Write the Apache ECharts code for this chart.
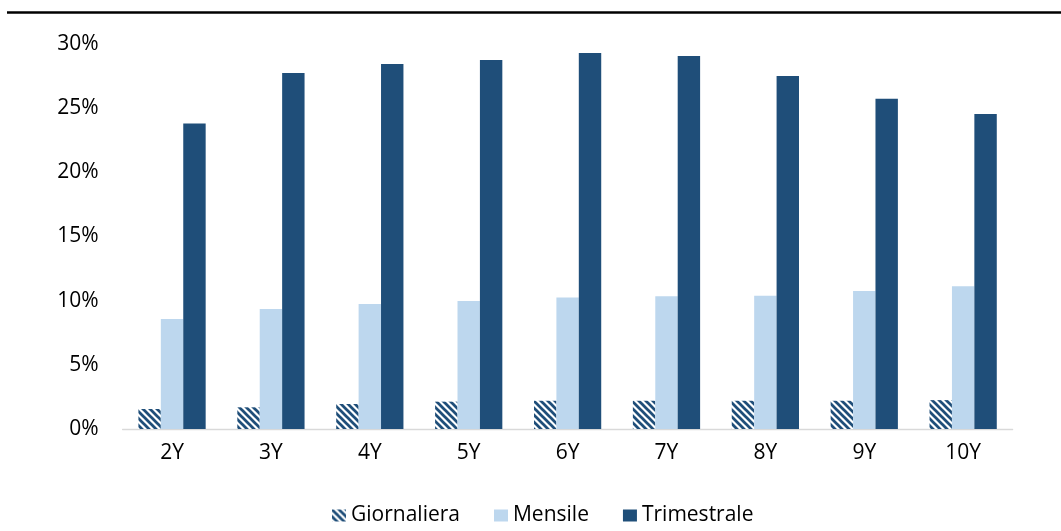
<!DOCTYPE html>
<html>
<head>
<meta charset="utf-8">
<script src="https://cdn.jsdelivr.net/npm/echarts@6/dist/echarts.min.js"></script>
<style>
  html, body { margin: 0; padding: 0; background: #fff; }
  #chart { width: 1061px; height: 531px; }
</style>
</head>
<body>
<div id="chart"></div>
<script>
// Tenors on the x axis
const categories = ['2Y', '3Y', '4Y', '5Y', '6Y', '7Y', '8Y', '9Y', '10Y'];
// Values in percent for each frequency
const giornaliera = [1.56, 1.69, 1.95, 2.13, 2.2, 2.2, 2.2, 2.2, 2.25];
const mensile = [8.57, 9.35, 9.74, 9.98, 10.24, 10.34, 10.39, 10.75, 11.12];
const trimestrale = [23.8, 27.74, 28.44, 28.75, 29.3, 29.07, 27.5, 25.74, 24.55];
// Y axis ticks
const yTicks = { min: 0, max: 30, step: 5 };

const DARK = '#1F4E79';
const LIGHT = '#BDD7EE';
const FONT = '"Open Sans", "Noto Sans", sans-serif';
const FONT_SIZE = 21;

// Diagonal stripe fill ("\" direction) for the daily series
function makeHatch(color) {
  const s = 7;
  const c = document.createElement('canvas');
  c.width = s; c.height = s;
  const ctx = c.getContext('2d');
  ctx.fillStyle = '#ffffff';
  ctx.fillRect(0, 0, s, s);
  ctx.strokeStyle = color;
  ctx.lineWidth = 2.7;
  for (let k = -1; k <= 1; k++) {
    ctx.beginPath();
    ctx.moveTo(-1, k * s - 1);
    ctx.lineTo(s + 1, s + k * s + 1);
    ctx.stroke();
  }
  return c;
}

const chart = echarts.init(document.getElementById('chart'), null, { renderer: 'canvas' });

chart.setOption({
  backgroundColor: '#ffffff',
  animation: false,
  textStyle: { fontFamily: FONT },
  graphic: [{
    type: 'line',
    shape: { x1: 7, y1: 12.5, x2: 1061, y2: 12.5 },
    style: { stroke: '#000000', lineWidth: 2.5 }
  }],
  grid: { left: 122.6, right: 48.4, top: 44, bottom: 102 },
  legend: {
    left: 327,
    top: 500,
    padding: 5,
    icon: 'rect',
    itemWidth: 14,
    itemHeight: 12,
    itemGap: 34,
    textStyle: { fontSize: FONT_SIZE, color: '#000000', fontFamily: FONT },
    data: ['Giornaliera', 'Mensile', 'Trimestrale']
  },
  xAxis: {
    type: 'category',
    data: categories,
    axisLine: { show: true, lineStyle: { color: '#D9D9D9', width: 1.3 } },
    axisTick: { show: false },
    axisLabel: { color: '#000000', fontSize: FONT_SIZE, margin: 14, fontFamily: FONT },
    splitLine: { show: false }
  },
  yAxis: {
    type: 'value',
    min: yTicks.min,
    max: yTicks.max,
    interval: yTicks.step,
    axisLine: { show: false },
    axisTick: { show: false },
    splitLine: { show: false },
    axisLabel: {
      color: '#000000',
      fontSize: FONT_SIZE,
      margin: 24,
      fontFamily: FONT,
      formatter: '{value}%'
    }
  },
  series: [
    {
      name: 'Giornaliera',
      type: 'bar',
      data: giornaliera,
      barGap: '0%',
      barCategoryGap: '32%',
      itemStyle: { color: { image: makeHatch(DARK), repeat: 'repeat' } }
    },
    {
      name: 'Mensile',
      type: 'bar',
      data: mensile,
      barGap: '0%',
      barCategoryGap: '32%',
      itemStyle: { color: LIGHT }
    },
    {
      name: 'Trimestrale',
      type: 'bar',
      data: trimestrale,
      barGap: '0%',
      barCategoryGap: '32%',
      itemStyle: { color: DARK }
    }
  ]
});
</script>
</body>
</html>
